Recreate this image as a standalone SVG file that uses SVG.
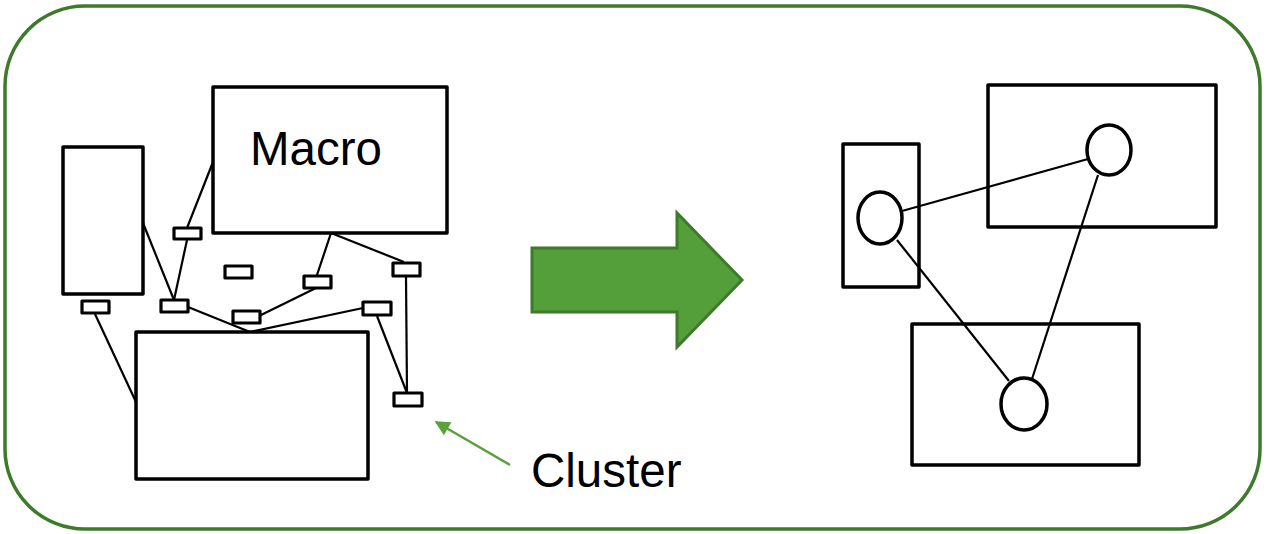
<svg xmlns="http://www.w3.org/2000/svg" width="1268" height="534" viewBox="0 0 1268 534">
<defs>
<style>
.box{fill:#fff;stroke:#000;stroke-width:3.5;stroke-linejoin:round}
.obox{fill:none;stroke:#000;stroke-width:3.5;stroke-linejoin:round}
.pin{fill:#fff;stroke:#000;stroke-width:3.2;stroke-linejoin:round}
.wire{stroke:#000;stroke-width:2.2;fill:none}
.node{fill:#fff;stroke:#000;stroke-width:3.5}
.lbl{font-family:"Liberation Sans",Arial,sans-serif;font-size:47.5px;fill:#000}
</style>
<marker id="ah" viewBox="0 0 10 10" refX="9" refY="5" markerWidth="7" markerHeight="6" orient="auto" markerUnits="strokeWidth">
<path d="M0,0 L10,5 L0,10 z" fill="#5aa03c"/>
</marker>
</defs>
<rect id="frame" x="5" y="6" width="1255" height="523" rx="80" ry="80" fill="#fff" stroke="#3e7a2b" stroke-width="3.5"/>

<g id="macro"><rect class="box" x="213" y="87" width="234" height="146"/><text class="lbl" x="250" y="165">Macro</text></g>
<g id="leftblock"><rect class="box" x="63" y="147" width="80" height="147"/></g>
<g id="bottomblock"><rect class="box" x="136" y="332" width="232" height="147"/></g>
<g id="r-left"><rect class="obox" x="843" y="144" width="76" height="143"/></g>
<g id="r-top"><rect class="obox" x="988" y="85" width="228" height="142"/></g>
<g id="r-bottom"><rect class="obox" x="912" y="324" width="227" height="141"/></g>

<g id="connectors">
<line class="wire" x1="213" y1="162" x2="187" y2="228"/>
<line class="wire" x1="187" y1="240" x2="174" y2="300"/>
<line class="wire" x1="143" y1="223" x2="174" y2="300"/>
<line class="wire" x1="188" y1="307" x2="250" y2="332"/>
<line class="wire" x1="250" y1="332" x2="363" y2="308"/>
<line class="wire" x1="259" y1="316" x2="316" y2="288"/>
<line class="wire" x1="331" y1="233" x2="317" y2="275"/>
<line class="wire" x1="331" y1="233" x2="404" y2="262"/>
<line class="wire" x1="406" y1="277" x2="407" y2="393"/>
<line class="wire" x1="377" y1="316" x2="407" y2="393"/>
<line class="wire" x1="95" y1="314" x2="136" y2="402"/>
<line class="wire" x1="902" y1="211" x2="1088" y2="159"/>
<line class="wire" x1="897" y1="240" x2="1009" y2="381"/>
<line class="wire" x1="1098" y1="175" x2="1032" y2="379"/>
<line x1="510" y1="465" x2="436" y2="422" stroke="#5aa03c" stroke-width="2.5" marker-end="url(#ah)"/>
</g>

<g id="pin-a"><rect class="pin" x="174" y="228" width="27" height="11"/></g>
<g id="pin-b"><rect class="pin" x="225" y="266" width="27" height="12"/></g>
<g id="pin-c"><rect class="pin" x="304" y="276" width="27" height="12"/></g>
<g id="pin-d"><rect class="pin" x="161" y="300" width="27" height="12"/></g>
<g id="pin-e"><rect class="pin" x="82" y="301" width="27" height="12"/></g>
<g id="pin-f"><rect class="pin" x="233" y="311" width="27" height="12"/></g>
<g id="pin-g"><rect class="pin" x="393" y="263" width="27" height="13"/></g>
<g id="pin-h"><rect class="pin" x="363" y="302" width="28" height="13"/></g>
<g id="pin-i"><rect class="pin" x="394" y="393" width="28" height="13"/></g>

<g id="cluster-label"><text class="lbl" x="531" y="487">Cluster</text></g>

<g id="big-arrow"><polygon points="532,248 677,248 677,213 742,280 677,347 677,312 532,312" fill="#559f3b" stroke="#3e7a2b" stroke-width="3" stroke-linejoin="miter"/></g>

<g id="n1"><ellipse class="node" cx="880" cy="218" rx="22" ry="26"/></g>
<g id="n2"><ellipse class="node" cx="1109" cy="150" rx="22" ry="25"/></g>
<g id="n3"><ellipse class="node" cx="1024" cy="404" rx="23" ry="26"/></g>
</svg>
